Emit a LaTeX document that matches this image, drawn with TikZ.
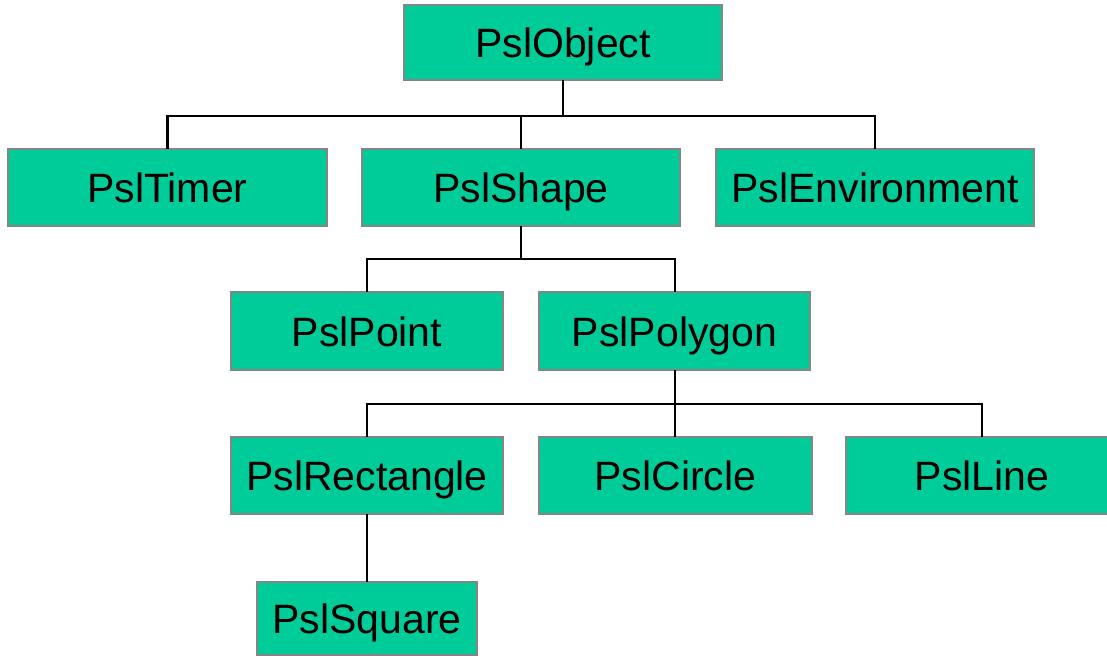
\documentclass[tikz,border=0pt]{standalone}
\usepackage{fontspec}
\setmainfont{Liberation Sans}
\definecolor{boxfill}{HTML}{00CC99}
\definecolor{boxline}{HTML}{858585}
\begin{document}
\begin{tikzpicture}[x=1pt,y=-1pt,
  cls/.style={draw=boxline, line width=2pt, fill=boxfill, inner sep=0pt, outer sep=0pt,
    text height=30pt, text depth=0pt, font=\fontsize{41}{49}\selectfont},
  link/.style={draw=black, line width=2.5pt}]
\useasboundingbox (0,0) rectangle (1107,657);
\clip (0,0) rectangle (1107,657);
\node[cls, minimum width=318pt, minimum height=75pt] (obj) at (563,42.5) {PslObject};
\node[cls, minimum width=319pt, minimum height=77pt] (timer) at (167.5,187.5) {PslTimer};
\node[cls, minimum width=318pt, minimum height=77pt] (shape) at (521,187.5) {PslShape};
\node[cls, minimum width=318pt, minimum height=77pt] (env) at (875,187.5) {PslEnvironment};
\node[cls, minimum width=272pt, minimum height=78pt] (point) at (367,331) {PslPoint};
\node[cls, minimum width=271pt, minimum height=78pt] (poly) at (674.5,331) {PslPolygon};
\node[cls, minimum width=272pt, minimum height=77pt] (rect) at (367,475.5) {PslRectangle};
\node[cls, minimum width=273pt, minimum height=77pt] (circ) at (675.5,475.5) {PslCircle};
\node[cls, minimum width=272pt, minimum height=77pt] (line) at (982,475.5) {PslLine};
\node[cls, minimum width=220pt, minimum height=73pt] (sq) at (367,618.5) {PslSquare};
\coordinate (b1) at (563,116);
\coordinate (b2) at (521,259);
\coordinate (b3) at (675,404);
\draw[link] (obj.south) -- (b1);
\draw[link] (timer.north) |- (b1) -| (env.north);
\draw[link] (shape.north) -- (shape.north |- b1);
\draw[link] (shape.south) -- (b2);
\draw[link] (point.north) |- (b2) -| (poly.north -| b3);
\draw[link] (poly.south -| b3) -- (b3);
\draw[link] (rect.north) |- (b3) -| (line.north);
\draw[link] (circ.north -| b3) -- (b3);
\draw[link] (rect.south) -- (sq.north);
\end{tikzpicture}
\end{document}
